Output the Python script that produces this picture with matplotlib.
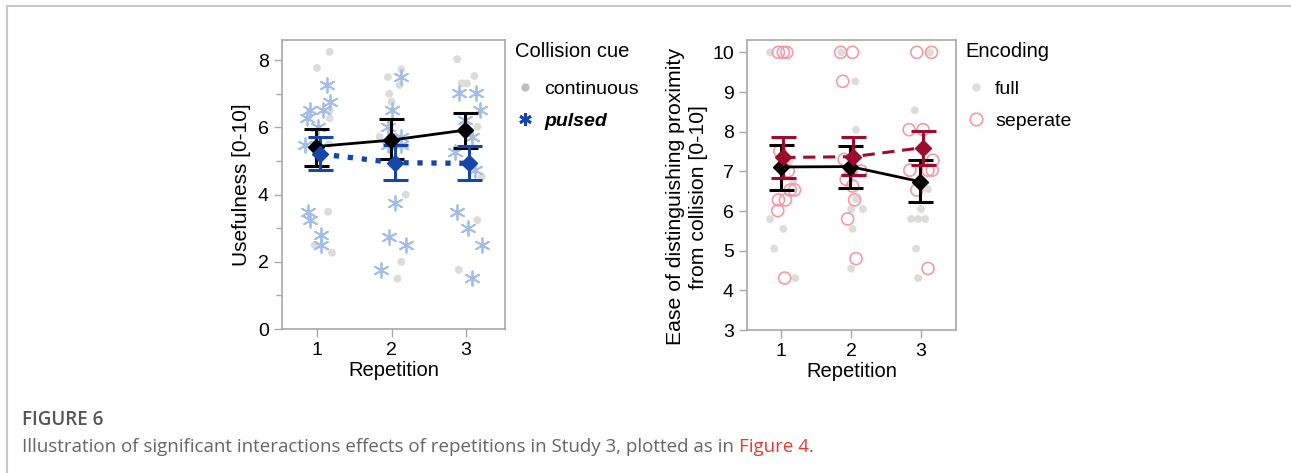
import numpy as np
import matplotlib
matplotlib.use("Agg")
import matplotlib.pyplot as plt
from matplotlib.lines import Line2D

plt.rcParams["font.family"] = ["Liberation Sans", "DejaVu Sans"]

# ---- left panel: usefulness by collision cue ----
cont_x = [1.17, 1.00, 1.17, 1.17, 1.16, 1.15, 1.20, 0.97,
          1.95, 1.97, 2.00, 2.13, 2.11, 2.19, 2.13, 2.08, 1.84,
          2.88, 3.11, 2.94, 3.01, 3.15, 3.21, 3.15, 2.90]
cont_y = [8.25, 7.77, 6.50, 6.27, 5.50, 3.49, 2.27, 2.50,
          7.50, 7.00, 6.76, 7.73, 7.26, 4.00, 2.00, 1.50, 5.72,
          8.03, 7.53, 7.31, 7.31, 6.02, 4.53, 3.24, 1.76]
puls_x = [1.14, 1.17, 0.91, 1.08, 0.86, 1.02, 0.84, 0.88, 0.91, 1.06, 1.06,
          2.00, 1.95, 2.04, 1.96, 1.86, 2.13, 2.13, 2.13, 2.19, 1.95,
          2.91, 3.13, 3.19, 2.99, 2.85, 3.12, 2.88, 3.03, 3.21, 3.08, 3.08]
puls_y = [7.26, 6.77, 6.52, 6.52, 6.27, 6.02, 5.48, 3.49, 3.24, 2.80, 2.50,
          6.52, 6.02, 3.74, 2.75, 1.76, 7.51, 5.72, 5.48, 2.50, 5.48,
          7.01, 7.01, 6.52, 6.22, 5.28, 4.73, 3.49, 3.00, 2.50, 1.51, 5.72]

reps = np.array([1, 2, 3])
cont_mean = [5.43, 5.62, 5.92]
cont_lo = [4.86, 5.05, 5.38]
cont_hi = [5.94, 6.24, 6.44]
puls_mean = [5.21, 4.95, 4.93]
puls_lo = [4.73, 4.43, 4.43]
puls_hi = [5.70, 5.48, 5.45]

# ---- right panel: ease of distinguishing by encoding ----
full_x = [0.84, 1.12, 1.17, 0.84, 1.03, 0.90, 1.20,
          1.86, 2.06, 2.07, 2.02, 2.07, 2.00, 2.17, 2.02, 2.00,
          3.13, 2.91, 3.10, 2.86, 2.96, 3.06, 3.00, 2.93, 2.96]
full_y = [10.0, 7.26, 6.76, 5.80, 5.55, 5.05, 4.31,
          10.0, 9.27, 8.05, 7.55, 6.30, 6.05, 6.05, 5.55, 4.55,
          10.0, 8.54, 6.55, 5.80, 5.80, 5.80, 6.05, 5.05, 4.31]
sep_x = [0.96, 1.03, 1.08, 0.98, 1.10, 1.13, 1.19, 0.96, 1.06, 0.95, 1.05,
         1.85, 2.02, 1.88, 1.90, 1.93, 2.02, 2.05, 1.95, 2.07, 2.14, 2.00,
         2.94, 3.15, 2.83, 3.03, 3.17, 2.84, 3.10, 3.16, 2.94, 3.10]
sep_y = [10.0, 10.0, 10.0, 7.51, 7.01, 6.53, 6.53, 6.28, 6.28, 6.01, 4.31,
         10.0, 10.0, 9.27, 7.30, 6.80, 6.63, 6.28, 5.80, 4.80, 7.01, 7.01,
         10.0, 10.0, 8.05, 8.05, 7.28, 7.03, 7.03, 7.03, 6.53, 4.55]

full_mean = [7.11, 7.12, 6.74]
full_lo = [6.53, 6.59, 6.23]
full_hi = [7.66, 7.65, 7.29]
sep_mean = [7.35, 7.37, 7.60]
sep_lo = [6.83, 6.91, 7.15]
sep_hi = [7.86, 7.86, 8.01]

GRAY_PT = "#dcdcd8"
BLUE_PT = "#a4bde8"
BLUE = "#1646a8"
PINK = "#f29aa6"
RED = "#9c0c2c"
SPINE = "#a8a8a4"

TICK_FS = 14
LABEL_FS = 15
LEG_FS = 14


def mean_bars(ax, x, mean, lo, hi, color, ls, lw):
    mean = np.asarray(mean)
    err = [mean - np.asarray(lo), np.asarray(hi) - mean]
    ax.errorbar(x, mean, yerr=err, fmt="none", ecolor=color, elinewidth=2.2,
                capsize=9, capthick=2.2, zorder=5)
    ax.plot(x, mean, color=color, ls=ls, lw=lw, marker="D", ms=8,
            mfc=color, mec=color, zorder=6)


def style_axes(ax):
    for s in ax.spines.values():
        s.set_color(SPINE)
        s.set_linewidth(1.2)
    ax.tick_params(axis="both", which="both", color=SPINE, direction="out",
                   labelsize=TICK_FS, length=6, width=1.0)
    ax.tick_params(axis="y", which="minor", length=4)
    ax.set_xticks([1, 2, 3])
    ax.set_xlabel("Repetition", fontsize=LABEL_FS - 0.5, labelpad=1)


def add_legend(ax, handles, labels, title):
    leg = ax.legend(handles, labels, title=title, loc="upper left",
                    bbox_to_anchor=(1.01, 1.02), frameon=False,
                    fontsize=LEG_FS, title_fontsize=LEG_FS + 0.5,
                    handletextpad=0.5, handlelength=1.0, labelspacing=0.72,
                    borderaxespad=0)
    leg._legend_box.align = "left"
    leg._legend_box.sep = 14
    return leg


fig = plt.figure(figsize=(12.91, 4.73), dpi=100)

# left panel
ax1 = fig.add_axes([0.2184, 0.3044, 0.1727, 0.611])
ax1.scatter(cont_x, cont_y, s=32, color=GRAY_PT, edgecolors="none", zorder=2)
ax1.scatter(puls_x, puls_y, s=110, marker=(6, 2, 0), color=BLUE_PT,
            linewidths=1.3, zorder=3)
mean_bars(ax1, reps - 0.01, cont_mean, cont_lo, cont_hi, "black", "-", 2.0)
mean_bars(ax1, reps + 0.04, puls_mean, puls_lo, puls_hi, BLUE, ":", 3.8)
ax1.set_xlim(0.53, 3.52)
ax1.set_ylim(0, 8.6)
ax1.set_yticks([0, 2, 4, 6, 8])
ax1.set_yticks([1, 3, 5, 7], minor=True)
ax1.set_ylabel("Usefulness [0-10]", fontsize=LABEL_FS, labelpad=5)
style_axes(ax1)

h1 = [Line2D([], [], ls="none", marker="o", ms=5, color="#bdbdbd"),
      Line2D([], [], ls="none", marker=(6, 2, 0), ms=9, mew=2.0, color=BLUE)]
leg1 = add_legend(ax1, h1, ["continuous", "pulsed"], "Collision cue")
leg1.get_texts()[1].set_fontweight("bold")
leg1.get_texts()[1].set_fontstyle("italic")

# right panel
ax2 = fig.add_axes([0.5786, 0.3023, 0.1619, 0.613])
ax2.scatter(full_x, full_y, s=32, color=GRAY_PT, edgecolors="none", zorder=2)
ax2.scatter(sep_x, sep_y, s=75, facecolors="none", edgecolors=PINK,
            linewidths=1.2, zorder=3)
mean_bars(ax2, reps - 0.01, full_mean, full_lo, full_hi, "black", "-", 2.0)
mean_bars(ax2, reps + 0.03, sep_mean, sep_lo, sep_hi, RED, (0, (4, 2.5)), 2.2)
ax2.set_xlim(0.51, 3.5)
ax2.set_ylim(3, 10.31)
ax2.set_yticks(range(3, 11))
ax2.set_ylabel("Ease of distinguishing proximity\nfrom collision [0-10]",
               fontsize=LABEL_FS + 0.3, linespacing=1.3)
ax2.yaxis.set_label_coords(-0.185, 0.46)
style_axes(ax2)

h2 = [Line2D([], [], ls="none", marker="o", ms=5, color="#dedede"),
      Line2D([], [], ls="none", marker="o", ms=9, mfc="none", mew=1.2,
             color=PINK)]
add_legend(ax2, h2, ["full", "seperate"], "Encoding")

# page frame lines (top and left)
fig.add_artist(Line2D([7 / 1291, 1], [1 - 6 / 473, 1 - 6 / 473],
                      color="#c8c8c8", lw=1.5))
fig.add_artist(Line2D([7 / 1291, 7 / 1291], [0, 1 - 6 / 473],
                      color="#c8c8c8", lw=1.5))

# caption
cap_font = ["Open Sans", "DejaVu Sans"]
CAP_FS = 13.5
fig.text(22 / 1291, 1 - 420 / 473, "FIGURE 6", fontsize=CAP_FS,
         color="#555555", family=cap_font, va="center", fontweight="semibold")
t = fig.text(22 / 1291, 1 - 447 / 473,
             "Illustration of significant interactions effects of repetitions "
             "in Study 3, plotted as in ", fontsize=CAP_FS, color="#666666",
             family=cap_font, va="center")
fig.canvas.draw()
bb = t.get_window_extent()
fig.text(bb.x1 / fig.bbox.width, 1 - 447 / 473, "Figure 4",
         fontsize=CAP_FS, color="#e8392f", family=cap_font, va="center")
bb2 = fig.texts[-1].get_window_extent()
fig.text(bb2.x1 / fig.bbox.width, 1 - 447 / 473, ".", fontsize=CAP_FS,
         color="#666666", family=cap_font, va="center")

fig.savefig("out.png", dpi=100)
